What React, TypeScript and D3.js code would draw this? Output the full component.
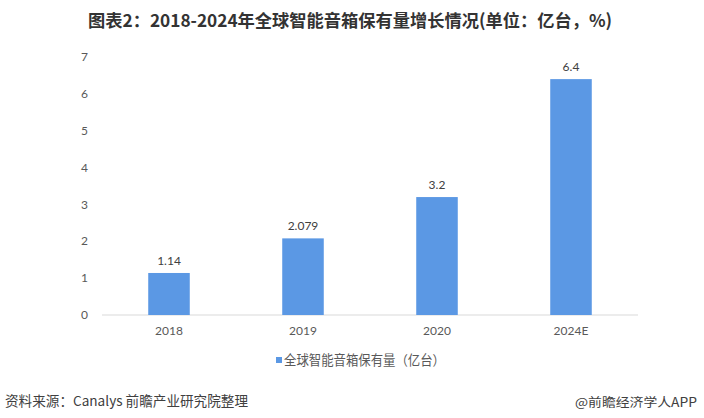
import React from "react";
import * as d3 from "d3";

const categories = ["2018", "2019", "2020", "2024E"];
const values = [1.14, 2.079, 3.2, 6.4];
const valueLabels = ["1.14", "2.079", "3.2", "6.4"];
const yTicks = [0, 1, 2, 3, 4, 5, 6, 7];

const W = 704;
const H = 418;
const FONT = "Lato, 'Noto Sans CJK SC', sans-serif";
const CJK = "'Noto Sans CJK SC', sans-serif";

export default function App() {
  const x = d3.scaleBand<string>().domain(categories).range([102, 638]).paddingInner(0.69).paddingOuter(0.345);
  const y = d3.scaleLinear().domain([0, 7]).range([315, 57]);
  const blue = "#5b98e4";
  const txt = "#595959";
  return (
    <svg width={W} height={H} style={{ position: "absolute", left: 0, top: 0, background: "#fff" }}>
      <text x={88} y={27} textLength={524} lengthAdjust="spacingAndGlyphs" fontFamily={CJK} fontWeight="bold" fontSize={17.5} fill="#333">
        图表2：2018-2024年全球智能音箱保有量增长情况(单位：亿台，%)
      </text>
      {yTicks.map((t) => (
        <text key={t} x={88} y={y(t)} dy="0.35em" textAnchor="end" fontFamily={FONT} fontSize={12} fill={txt}>
          {t}
        </text>
      ))}
      <line x1={102} x2={638} y1={y(0)} y2={y(0)} stroke="#d9d9d9" strokeWidth={1} />
      {categories.map((c, i) => {
        const bx = x(c)!;
        const bw = x.bandwidth();
        return (
          <g key={c}>
            <rect x={bx} y={y(values[i])} width={bw} height={y(0) - y(values[i])} fill={blue} />
            <text x={bx + bw / 2} y={y(values[i]) - 8} textAnchor="middle" fontFamily={FONT} fontSize={12} fill="#404040">
              {valueLabels[i]}
            </text>
            <text x={bx + bw / 2} y={335} textAnchor="middle" fontFamily={FONT} fontSize={12} fill={txt}>
              {c}
            </text>
          </g>
        );
      })}
      <rect x={276} y={357} width={6} height={6} fill={blue} />
      <text x={284} y={365} textLength={161} lengthAdjust="spacingAndGlyphs" fontFamily={CJK} fontSize={13.5} fill={txt}>
        全球智能音箱保有量（亿台）
      </text>
      <text x={5} y={406} textLength={243} lengthAdjust="spacingAndGlyphs" fontFamily={CJK} fontSize={13.5} fill="#404040">
        资料来源：Canalys 前瞻产业研究院整理
      </text>
      <text x={575} y={407} textLength={122} lengthAdjust="spacingAndGlyphs" fontFamily={CJK} fontSize={12.5} fill="#404040">
        @前瞻经济学人APP
      </text>
    </svg>
  );
}
